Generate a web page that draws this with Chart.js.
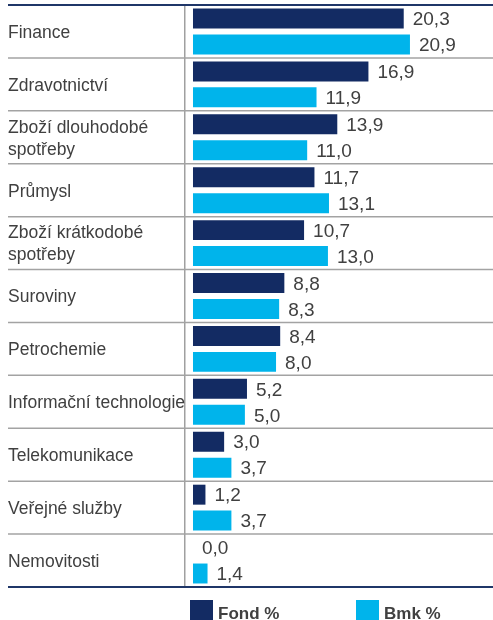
<!DOCTYPE html>
<html>
<head>
<meta charset="utf-8">
<script src="https://cdn.jsdelivr.net/npm/chart.js@4/dist/chart.umd.min.js"></script>
<style>
    html, body { margin: 0; padding: 0; background: #fff; }
    #chart { display: block; }
</style>
</head>
<body>
<canvas id="chart" width="493" height="620"></canvas>
<script>
const sectors = [
    'Finance',
    'Zdravotnictví',
    ['Zboží dlouhodobé', 'spotřeby'],
    'Průmysl',
    ['Zboží krátkodobé', 'spotřeby'],
    'Suroviny',
    'Petrochemie',
    'Informační technologie',
    'Telekomunikace',
    'Veřejné služby',
    'Nemovitosti'
];
const fondValues = [20.3, 16.9, 13.9, 11.7, 10.7, 8.8, 8.4, 5.2, 3.0, 1.2, 0.0];
const bmkValues = [20.9, 11.9, 11.0, 13.1, 13.0, 8.3, 8.0, 5.0, 3.7, 3.7, 1.4];
const seriesNames = ['Fond %', 'Bmk %'];

const navy = '#132b63';
const cyan = '#00b4eb';
const textGray = '#404040';

const fmt = v => v.toFixed(1).replace('.', ',');

// separators, value labels and the legend
const decorations = {
    id: 'decorations',
    afterDatasetsDraw(chart) {
        const ctx = chart.ctx;
        const area = chart.chartArea;
        const y = chart.scales.y;

        ctx.save();
        ctx.fillStyle = textGray;
        ctx.font = '19px "Liberation Sans", Arial, sans-serif';
        ctx.textBaseline = 'middle';
        ctx.textAlign = 'left';
        chart.data.datasets.forEach((ds, i) => {
            chart.getDatasetMeta(i).data.forEach((bar, j) => {
                ctx.fillText(fmt(ds.data[j]), bar.x + 9, bar.y + 1.5);
            });
        });

        ctx.strokeStyle = '#a3a3a3';
        ctx.lineWidth = 1.5;
        for (let i = 0; i < sectors.length - 1; i++) {
            const yy = (y.getPixelForValue(i) + y.getPixelForValue(i + 1)) / 2;
            ctx.beginPath();
            ctx.moveTo(8, yy);
            ctx.lineTo(chart.width, yy);
            ctx.stroke();
        }

        ctx.strokeStyle = '#1f3668';
        ctx.lineWidth = 2;
        [area.top, area.bottom].forEach(yy => {
            ctx.beginPath();
            ctx.moveTo(8, yy);
            ctx.lineTo(chart.width, yy);
            ctx.stroke();
        });

        const legendX = [190, 356];
        ctx.font = 'bold 17px "Liberation Sans", Arial, sans-serif';
        ctx.textBaseline = 'alphabetic';
        chart.data.datasets.forEach((ds, i) => {
            ctx.fillStyle = ds.backgroundColor;
            ctx.fillRect(legendX[i], 600, 23, 24);
            ctx.fillStyle = textGray;
            ctx.fillText(ds.label, legendX[i] + 28, 619);
        });
        ctx.restore();
    }
};

new Chart(document.getElementById('chart'), {
    type: 'bar',
    data: {
        labels: sectors,
        datasets: [
            { label: seriesNames[0], data: fondValues, backgroundColor: navy },
            { label: seriesNames[1], data: bmkValues, backgroundColor: cyan }
        ]
    },
    options: {
        indexAxis: 'y',
        responsive: false,
        animation: false,
        events: [],
        layout: { padding: { left: 8, top: 5, right: 0, bottom: 33 } },
        datasets: {
            bar: { categoryPercentage: 0.98, barPercentage: 0.77, borderWidth: 0 }
        },
        scales: {
            x: {
                display: false,
                min: -0.77,
                max: 28.9
            },
            y: {
                grid: { display: false },
                border: { display: true, color: '#a0a0a0', width: 1.5 },
                ticks: {
                    autoSkip: false,
                    crossAlign: 'far',
                    labelOffset: 1.5,
                    color: textGray,
                    font: { family: '"Liberation Sans", Arial, sans-serif', size: 17.5, lineHeight: 1.26 }
                },
                afterFit(scale) {
                    scale.width = 177;
                    scale.paddingTop = 0;
                    scale.paddingBottom = 0;
                }
            }
        },
        plugins: {
            legend: { display: false },
            tooltip: { enabled: false }
        }
    },
    plugins: [decorations]
});
</script>
</body>
</html>
